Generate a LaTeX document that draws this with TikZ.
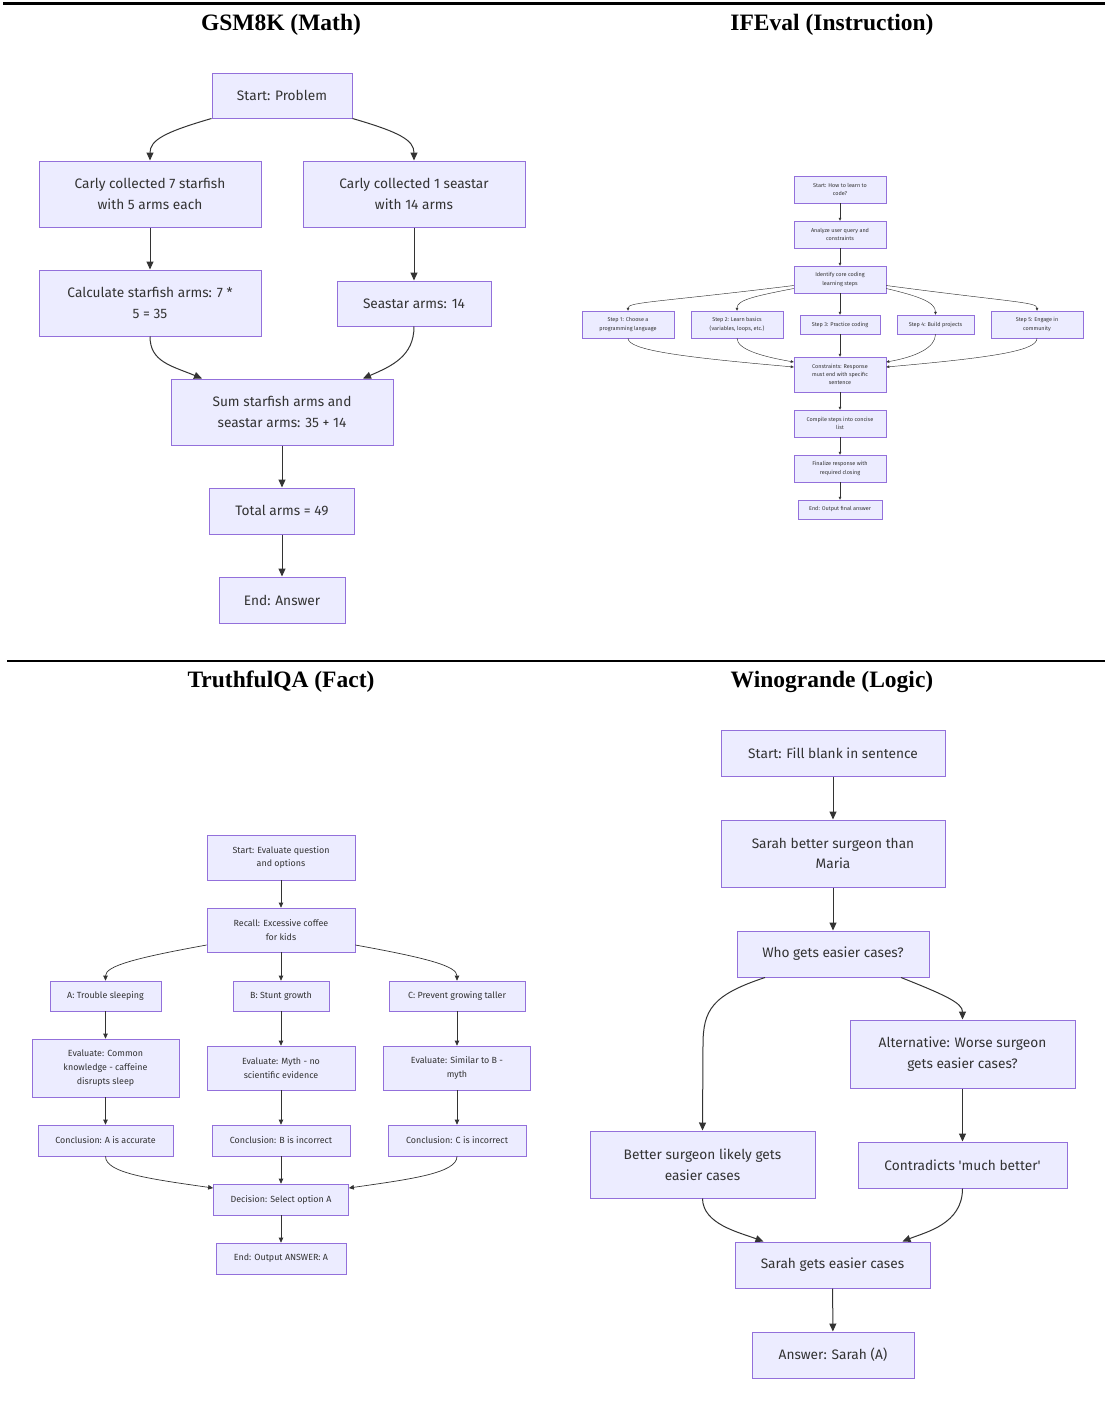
\documentclass[tikz,border=0pt]{standalone}
\usepackage{fontspec}
\setmainfont{Fira Sans}
\newfontfamily\mfont{Fira Sans}
\newfontfamily\titlefont{Liberation Serif}
\usetikzlibrary{arrows.meta,calc}
\definecolor{mfill}{HTML}{ECECFF}
\definecolor{mstroke}{HTML}{9370DB}
\definecolor{mline}{HTML}{333333}
\tikzset{
  box/.style={draw=mstroke, fill=mfill, text=mline, align=center, inner sep=0pt, anchor=center},
  bigbox/.style={box, line width=1pt, font=\mfont\fontsize{13.7}{20.5}\selectfont},
  midbox/.style={box, line width=0.7pt, font=\mfont\fontsize{8.9}{13.8}\selectfont},
  tinybox/.style={box, line width=0.45pt, font=\mfont\fontsize{5.5}{8.3}\selectfont},
  bigarr/.style={draw=mline, line width=1pt, -{Triangle[length=8pt,width=7pt]}},
  midarr/.style={draw=mline, line width=0.7pt, -{Triangle[length=5pt,width=4.5pt]}},
  tinyarr/.style={draw=mline, line width=0.45pt, -{Triangle[length=3pt,width=2.6pt]}},
  paneltitle/.style={font=\titlefont\bfseries\fontsize{23.5}{27}\selectfont, inner sep=0pt}
}
\begin{document}
\begin{tikzpicture}[x=1pt, y=-1pt]
\useasboundingbox[fill=white] (0,0) rectangle (1105,1416);
% rules
\draw[line width=2.5pt] (3,3.5) -- (1105,3.5);
\draw[line width=1.2pt] (7,661) -- (1105,661);
% titles
\node[paneltitle] (t1) at (281,25) {GSM8K (Math)};
\node[paneltitle] (t2) at (832,25) {IFEval (Instruction)};
\node[paneltitle] (t3) at (281,682) {TruthfulQA (Fact)};
\node[paneltitle] (t4) at (832,682) {Winogrande (Logic)};

% ===== GSM8K =====
\node[bigbox, minimum width=140pt, minimum height=45pt] (gstart) at (282,95.5) {Start: Problem};
\node[bigbox, minimum width=222pt, minimum height=66pt] (gc7) at (150,194) {Carly collected 7 starfish\\with 5 arms each};
\node[bigbox, minimum width=222pt, minimum height=66pt] (gs1) at (414,194) {Carly collected 1 seastar\\with 14 arms};
\node[bigbox, minimum width=222pt, minimum height=66pt] (gcalc) at (150,303) {Calculate starfish arms: 7 *\\5 = 35};
\node[bigbox, minimum width=154pt, minimum height=45pt] (gs14) at (414,303.5) {Seastar arms: 14};
\node[bigbox, minimum width=222pt, minimum height=66pt] (gsum) at (282,412) {Sum starfish arms and\\seastar arms: 35 + 14};
\node[bigbox, minimum width=145pt, minimum height=46pt] (gtot) at (282,511) {Total arms = 49};
\node[bigbox, minimum width=126pt, minimum height=46pt] (gend) at (282,600) {End: Answer};
\draw[bigarr] (gstart.south west) .. controls (165,132) and (150,140) .. (gc7.north);
\draw[bigarr] (gstart.south east) .. controls (399,132) and (414,140) .. (gs1.north);
\draw[bigarr] (gc7) -- (gcalc);
\draw[bigarr] (gs1) -- (gs14);
\draw[bigarr] (gcalc.south) .. controls (150,362) and (172,366) .. ($(gsum.north)+(-80,0)$);
\draw[bigarr] (gs14.south) .. controls (414,356) and (392,366) .. ($(gsum.north)+(81,0)$);
\draw[bigarr] (gsum) -- (gtot);
\draw[bigarr] (gtot) -- (gend);

% ===== IFEval =====
\node[tinybox, minimum width=92pt, minimum height=27pt] (istart) at (840,189.5) {Start: How to learn to\\code?};
\node[tinybox, minimum width=92pt, minimum height=27pt] (iana) at (840,234.5) {Analyze user query and\\constraints};
\node[tinybox, minimum width=92pt, minimum height=27pt] (iid) at (840,279.5) {Identify core coding\\learning steps};
\node[tinybox, minimum width=92pt, minimum height=27pt] (is1) at (628,324.5) {Step 1: Choose a\\programming language};
\node[tinybox, minimum width=92pt, minimum height=27pt] (is2) at (737,324.5) {Step 2: Learn basics\\(variables, loops, etc.)};
\node[tinybox, minimum width=80pt, minimum height=19pt] (is3) at (840,324.5) {Step 3: Practice coding};
\node[tinybox, minimum width=77pt, minimum height=19pt] (is4) at (935.5,324.5) {Step 4: Build projects};
\node[tinybox, minimum width=92pt, minimum height=27pt] (is5) at (1037,324.5) {Step 5: Engage in\\community};
\node[tinybox, minimum width=92pt, minimum height=35pt] (icons) at (840,374.5) {Constraints: Response\\must end with specific\\sentence};
\node[tinybox, minimum width=92pt, minimum height=27pt] (icomp) at (840,423.5) {Compile steps into concise\\list};
\node[tinybox, minimum width=92pt, minimum height=27pt] (ifin) at (840,468.5) {Finalize response with\\required closing};
\node[tinybox, minimum width=84pt, minimum height=19pt] (iend) at (840,509.5) {End: Output final answer};
\draw[tinyarr] (istart) -- (iana);
\draw[tinyarr] (iana) -- (iid);
\draw[tinyarr] ($(iid.west)+(0,6)$) .. controls (660,302) and (628,302) .. (is1.north);
\draw[tinyarr] ($(iid.west)+(0,9)$) .. controls (755,296) and (737,300) .. (is2.north);
\draw[tinyarr] (iid) -- (is3);
\draw[tinyarr] ($(iid.east)+(0,9)$) .. controls (918,296) and (935.5,302) .. (is4.north);
\draw[tinyarr] ($(iid.east)+(0,6)$) .. controls (1010,302) and (1037,302) .. (is5.north);
\draw[tinyarr] (is1.south) .. controls (628,350) and (680,357) .. ($(icons.west)+(0,-7.5)$);
\draw[tinyarr] (is2.south) .. controls (737,350) and (765,357) .. ($(icons.west)+(0,-12.5)$);
\draw[tinyarr] (is3) -- (icons);
\draw[tinyarr] (is4.south) .. controls (935.5,348) and (915,357) .. ($(icons.east)+(0,-12.5)$);
\draw[tinyarr] (is5.south) .. controls (1037,350) and (1000,357) .. ($(icons.east)+(0,-7.5)$);
\draw[tinyarr] (icons) -- (icomp);
\draw[tinyarr] (icomp) -- (ifin);
\draw[tinyarr] (ifin) -- (iend);

% ===== TruthfulQA =====
\node[midbox, minimum width=148pt, minimum height=45pt] (tstart) at (281,857.5) {Start: Evaluate question\\and options};
\node[midbox, minimum width=148pt, minimum height=44pt] (trec) at (281,930) {Recall: Excessive coffee\\for kids};
\node[midbox, minimum width=111pt, minimum height=30pt] (ta) at (105.5,996) {A: Trouble sleeping};
\node[midbox, minimum width=96pt, minimum height=30pt] (tb) at (281,996) {B: Stunt growth};
\node[midbox, minimum width=136pt, minimum height=30pt] (tc) at (457,996) {C: Prevent growing taller};
\node[midbox, minimum width=147pt, minimum height=58pt] (tea) at (105.5,1068) {Evaluate: Common\\knowledge - caffeine\\disrupts sleep};
\node[midbox, minimum width=148pt, minimum height=44pt] (teb) at (281,1068) {Evaluate: Myth - no\\scientific evidence};
\node[midbox, minimum width=147pt, minimum height=44pt] (tec) at (457,1068) {Evaluate: Similar to B -\\myth};
\node[midbox, minimum width=135pt, minimum height=31pt] (tca) at (105.5,1140.5) {Conclusion: A is accurate};
\node[midbox, minimum width=138pt, minimum height=31pt] (tcb) at (281,1140.5) {Conclusion: B is incorrect};
\node[midbox, minimum width=138pt, minimum height=31pt] (tcc) at (457,1140.5) {Conclusion: C is incorrect};
\node[midbox, minimum width=135pt, minimum height=31pt] (tdec) at (281,1199.5) {Decision: Select option A};
\node[midbox, minimum width=130pt, minimum height=31pt] (tend) at (281,1258.5) {End: Output ANSWER: A};
\draw[midarr] (tstart) -- (trec);
\draw[midarr] ($(trec.west)+(0,15)$) .. controls (135,958) and (105.5,966) .. (ta.north);
\draw[midarr] (trec) -- (tb);
\draw[midarr] ($(trec.east)+(0,15)$) .. controls (427,958) and (457,966) .. (tc.north);
\draw[midarr] (ta) -- (tea);
\draw[midarr] (tb) -- (teb);
\draw[midarr] (tc) -- (tec);
\draw[midarr] (tea) -- (tca);
\draw[midarr] (teb) -- (tcb);
\draw[midarr] (tec) -- (tcc);
\draw[midarr] (tca.south) .. controls (105.5,1173) and (150,1179) .. ($(tdec.west)+(0,-11.5)$);
\draw[midarr] (tcb) -- (tdec);
\draw[midarr] (tcc.south) .. controls (457,1173) and (412,1179) .. ($(tdec.east)+(0,-11.5)$);
\draw[midarr] (tdec) -- (tend);

% ===== Winogrande =====
\node[bigbox, minimum width=224pt, minimum height=46pt] (wstart) at (833,753) {Start: Fill blank in sentence};
\node[bigbox, minimum width=224pt, minimum height=67pt] (wsarah) at (833,853.5) {Sarah better surgeon than\\Maria};
\node[bigbox, minimum width=192pt, minimum height=46pt] (wwho) at (833,954) {Who gets easier cases?};
\node[bigbox, minimum width=225pt, minimum height=68pt] (walt) at (962.5,1054) {Alternative: Worse surgeon\\gets easier cases?};
\node[bigbox, minimum width=225pt, minimum height=67pt] (wbet) at (702.5,1164.5) {Better surgeon likely gets\\easier cases};
\node[bigbox, minimum width=209pt, minimum height=46pt] (wcon) at (962.5,1165) {Contradicts 'much better'};
\node[bigbox, minimum width=195pt, minimum height=46pt] (wsge) at (832.5,1265) {Sarah gets easier cases};
\node[bigbox, minimum width=162pt, minimum height=46pt] (wans) at (833,1355) {Answer: Sarah (A)};
\coordinate (wbend) at (703,1045);
\draw[bigarr] (wstart) -- (wsarah);
\draw[bigarr] (wsarah) -- (wwho);
\draw[bigarr] ($(wwho.south)+(-68,0)$) .. controls (712,995) and (703,1010) .. (wbend) -- (wbet.north);
\draw[bigarr] ($(wwho.south)+(68,0)$) .. controls (945,995) and (962.5,1003) .. (walt.north);
\draw[bigarr] (walt) -- (wcon);
\draw[bigarr] (wbet.south) .. controls (703,1224) and (738,1232) .. ($(wsge.north)+(-69,0)$);
\draw[bigarr] (wcon.south) .. controls (962.5,1224) and (926,1232) .. ($(wsge.north)+(70,0)$);
\draw[bigarr] (wsge) -- (wans);
\end{tikzpicture}
\end{document}
